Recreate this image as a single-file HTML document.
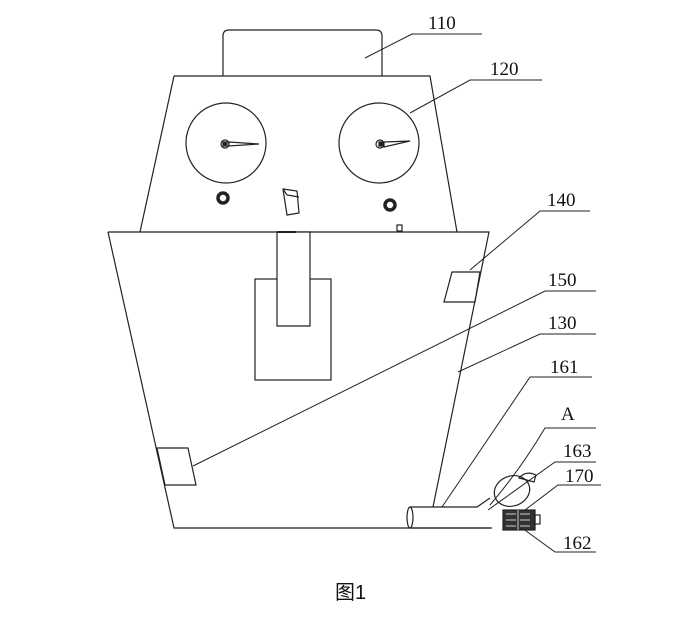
<!DOCTYPE html>
<html><head><meta charset="utf-8"><style>body{margin:0;background:#fff}svg{display:block}</style></head><body>
<svg width="682" height="632" viewBox="0 0 682 632" xmlns="http://www.w3.org/2000/svg" fill="none" stroke="#222" stroke-width="1.2" font-family="Liberation Serif, serif" font-size="19">
<path d="M223,76 V36 Q223,30 229,30 H376 Q382,30 382,36 V76"/>
<path d="M174,76 H430 L457,232 M174,76 L140,232"/>
<circle cx="226" cy="143" r="40"/>
<circle cx="379" cy="143" r="40"/>
<circle cx="225" cy="144" r="4"/><rect x="223" y="142" width="4" height="4" fill="#222"/>
<path d="M229,142 L259,144 L229,146 Z" fill="#fff"/>
<circle cx="380" cy="144" r="4"/><rect x="379" y="142" width="4" height="4" fill="#222"/>
<path d="M384,142 L410,141 L384,147 Z" fill="#fff"/>
<circle cx="223" cy="198" r="5" stroke-width="3.5"/>
<circle cx="390" cy="205" r="5" stroke-width="3.5"/>
<path d="M283,189 L297,191 L299,213 L287,215 Z M283,189 L287,195 L299,197"/>
<rect x="397" y="225" width="5" height="6"/>
<path d="M108,232 H489 L433,507 M108,232 L174,528 H490"/>
<rect x="255" y="279" width="76" height="101"/>
<path d="M277,232 V326 H310 V232 Z" fill="#fff"/>
<path d="M277,232 H296" stroke-width="2"/>
<path d="M452,272 H480 L475,302 H444 Z"/>
<path d="M157,448 H188 L196,485 H165 Z"/>
<path d="M410,507 H477 L490,498 M410,528 H492"/>
<ellipse cx="410" cy="517.5" rx="3" ry="10.5"/>
<ellipse cx="512" cy="491" rx="18" ry="15" transform="rotate(-20 512 491)"/>
<path d="M519,478 Q526,470 536,475 L534,482 Z"/>
<rect x="503" y="510" width="32" height="20" fill="#333"/>
<path d="M506,514 h10 M506,520 h10 M506,526 h10 M520,514 h10 M520,520 h10 M520,526 h10 M518,510 v20" stroke="#ccc" stroke-width="1"/>
<rect x="535" y="515" width="5" height="9"/>
<g stroke-width="1">
<path d="M365,58 L412,34 H482"/>
<path d="M410,113 L470,80 H542"/>
<path d="M470,270 L540,211 H590"/>
<path d="M193,466 L545,291 H596"/>
<path d="M458,372 L540,334 H596"/>
<path d="M442,507 L530,377 H592"/>
<path d="M490,505 Q520,470 545,428 H596"/>
<path d="M488,510 L555,462 H596"/>
<path d="M525,510 L558,485 H601"/>
<path d="M522,528 L555,552 H596"/>
</g>
<g fill="#111" stroke="none">
<text x="428" y="29">110</text>
<text x="490" y="75">120</text>
<text x="547" y="206">140</text>
<text x="548" y="286">150</text>
<text x="548" y="329">130</text>
<text x="550" y="373">161</text>
<text x="561" y="420">A</text>
<text x="563" y="457">163</text>
<text x="565" y="482">170</text>
<text x="563" y="549">162</text>
<text x="335" y="599" font-family="Liberation Sans, Noto Sans CJK SC, sans-serif" font-size="20">图1</text>
</g>
</svg>
</body></html>
